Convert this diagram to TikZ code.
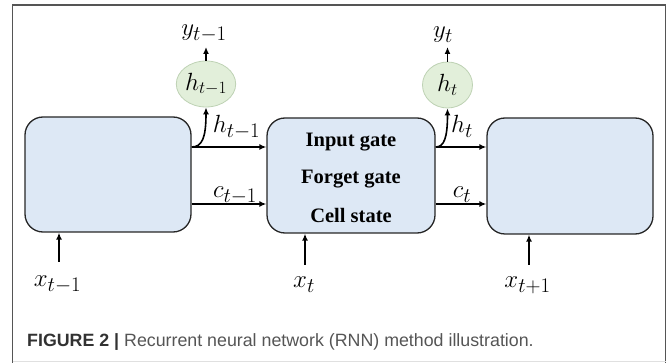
\documentclass[tikz,border=0pt]{standalone}
\usepackage{fontspec}
\setmainfont{Liberation Serif}
\newfontfamily\capfont{Liberation Sans}
\usetikzlibrary{arrows.meta,shapes.geometric}
\definecolor{boxfill}{RGB}{221,232,245}
\definecolor{ellfill}{RGB}{226,239,218}
\definecolor{elldraw}{RGB}{190,210,180}
\definecolor{framecol}{RGB}{85,85,85}
\definecolor{capdark}{RGB}{50,50,50}
\definecolor{capgray}{RGB}{85,85,85}
\tikzset{
  cellbox/.style={draw=black!85, line width=1.3pt, fill=boxfill, rounded corners=18pt, inner sep=0pt},
  outnode/.style={ellipse, draw=elldraw, line width=0.8pt, fill=ellfill, inner sep=0pt, minimum width=50pt, minimum height=46pt, font=\fontsize{25}{27}\selectfont},
  arr/.style={-{Latex[length=7pt,width=6pt]}, line width=1.6pt, black},
  mlabel/.style={anchor=base, inner sep=0pt, font=\fontsize{28}{30}\selectfont},
  gatetext/.style={font=\fontsize{20.5}{22}\selectfont\bfseries, inner sep=0pt}
}
\begin{document}
\begin{tikzpicture}[x=1pt,y=-1pt]
\useasboundingbox (0,0) rectangle (667,363);
% frame
\draw[framecol, line width=1.4pt] (12.5,363) -- (12.5,5) -- (665.5,5) -- (665.5,363);
\draw[black!12, line width=1pt] (12.5,362) -- (665.5,362);
% boxes
\node[cellbox, minimum width=166pt, minimum height=115pt] (L) at (108,174.5) {};
\node[cellbox, minimum width=168pt, minimum height=115pt] (M) at (351,175.5) {};
\node[cellbox, minimum width=166pt, minimum height=116pt] (R) at (570,176) {};
% gate text
\node[gatetext] (ig) at (351,142) {Input gate};
\node[gatetext] (fg) at (351,179) {Forget gate};
\node[gatetext] (cs) at (351,215) {Cell state};
% output ellipses
\node[outnode] (e1) at (206,84) {$h_{t-1}$};
\node[outnode] (e2) at (447.5,85) {$h_t$};
% y labels
\node[mlabel] (y1) at (204,36) {$y_{t-1}$};
\node[mlabel] (y2) at (443,38) {$y_t$};
\coordinate (y1a) at (206,47);
\coordinate (y2a) at (447.5,47);
\draw[arr] (e1.north) -- (y1a);
\draw[arr] (e2.north) -- (y2a);
% h arrows
\coordinate (h1s) at (L.east |- 0,147);
\coordinate (h1e) at (M.west |- 0,147);
\coordinate (h2s) at (M.east |- 0,147);
\coordinate (h2e) at (R.west |- 0,147);
\draw[arr] (h1s) -- (h1e);
\draw[arr] (h2s) -- (h2e);
\draw[arr] (h1s) .. controls (202,147) and (206,138) .. (e1.south);
\draw[arr] (h2s) .. controls (444,147) and (447.5,138) .. (e2.south);
\node[mlabel] (hl1) at (236.5,133) {$h_{t-1}$};
\node[mlabel] (hl2) at (462,133) {$h_t$};
% c arrows
\coordinate (c1s) at (L.east |- 0,204);
\coordinate (c1e) at (M.west |- 0,204);
\coordinate (c2s) at (M.east |- 0,204);
\coordinate (c2e) at (R.west |- 0,204);
\draw[arr] (c1s) -- (c1e);
\draw[arr] (c2s) -- (c2e);
\node[mlabel] (cl1) at (235,198) {$c_{t-1}$};
\node[mlabel] (cl2) at (462,198) {$c_t$};
% x inputs
\coordinate (x1s) at (59,262);
\coordinate (x2s) at (305,265);
\coordinate (x3s) at (529,265);
\draw[arr] (x1s) -- (x1s |- L.south);
\draw[arr] (x2s) -- (x2s |- M.south);
\draw[arr] (x3s) -- (x3s |- R.south);
\node[mlabel] (x1) at (57.5,287) {$x_{t-1}$};
\node[mlabel] (x2) at (304,288) {$x_t$};
\node[mlabel] (x3) at (527.5,288) {$x_{t+1}$};
% caption
\node[anchor=base west, inner sep=0pt, font=\capfont\fontsize{17.8}{19}\selectfont] (cap) at (27,347)
  {\textcolor{capdark}{\bfseries FIGURE 2 |} \textcolor{capgray}{Recurrent neural network (RNN) method illustration.}};
\end{tikzpicture}
\end{document}
